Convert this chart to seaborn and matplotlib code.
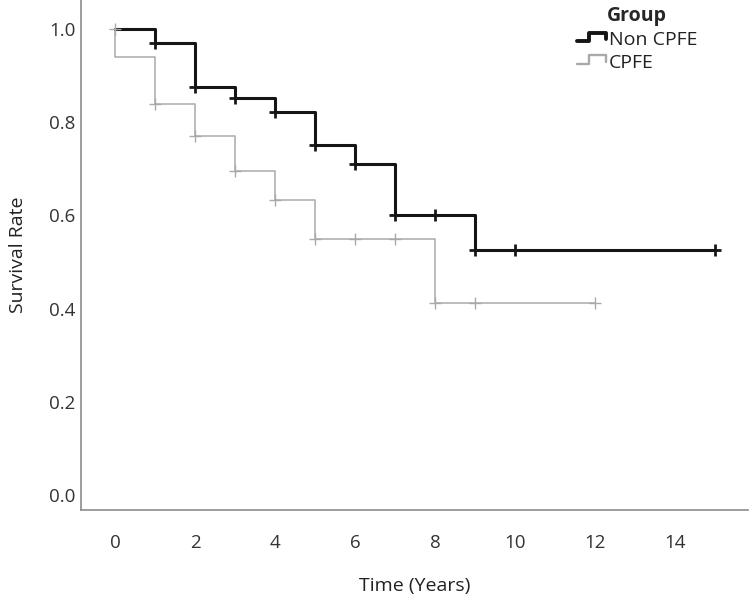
import pandas as pd
import numpy as np
import matplotlib
matplotlib.use("Agg")
import matplotlib.pyplot as plt
from matplotlib.lines import Line2D
from matplotlib.legend_handler import HandlerLine2D
import seaborn as sns

# Kaplan-Meier steps
non_cpfe_time = [0, 1, 2, 3, 4, 5, 6, 7, 9, 15]
non_cpfe_surv = [1.0, 0.971, 0.877, 0.853, 0.823, 0.752, 0.711, 0.601, 0.526, 0.526]
non_cpfe_cens_time = [1, 2, 3, 4, 5, 6, 7, 8, 9, 10, 15]
non_cpfe_cens_surv = [0.971, 0.877, 0.853, 0.823, 0.752, 0.711, 0.601, 0.601, 0.526, 0.526, 0.526]

cpfe_time = [0, 0, 1, 2, 3, 4, 5, 8, 12]
cpfe_surv = [1.0, 0.941, 0.840, 0.771, 0.695, 0.633, 0.549, 0.412, 0.412]
cpfe_cens_time = [0, 1, 2, 3, 4, 5, 6, 7, 8, 9, 12]
cpfe_cens_surv = [1.0, 0.840, 0.771, 0.695, 0.633, 0.549, 0.549, 0.549, 0.412, 0.412, 0.412]

x_ticks = [0, 2, 4, 6, 8, 10, 12, 14]
y_ticks = [0.0, 0.2, 0.4, 0.6, 0.8, 1.0]
groups = ["Non CPFE", "CPFE"]


class StepHandler(HandlerLine2D):
    # little step icon like the SPSS legend
    def create_artists(self, legend, orig_handle, xdescent, ydescent,
                       width, height, fontsize, trans):
        x0 = -xdescent
        y0 = -ydescent
        xs = [x0, x0 + 0.4 * width, x0 + 0.4 * width, x0 + width, x0 + width]
        ys = [y0 + 0.25 * height, y0 + 0.25 * height, y0 + 0.9 * height,
              y0 + 0.9 * height, y0 + 0.4 * height]
        line = Line2D(xs, ys)
        self.update_prop(line, orig_handle, legend)
        line.set_drawstyle("default")
        line.set_transform(trans)
        return [line]


sns.set_theme(style="white")
plt.rcParams["font.family"] = ["Open Sans", "DejaVu Sans"]

fig = plt.figure(figsize=(7.5, 6), dpi=100)
ax = fig.add_axes([81 / 750, 90 / 600, 667 / 750, 510 / 600])

curves = pd.DataFrame({
    "time": non_cpfe_time + cpfe_time,
    "surv": non_cpfe_surv + cpfe_surv,
    "Group": [groups[0]] * len(non_cpfe_time) + [groups[1]] * len(cpfe_time),
})
cens = pd.DataFrame({
    "time": non_cpfe_cens_time + cpfe_cens_time,
    "surv": non_cpfe_cens_surv + cpfe_cens_surv,
    "Group": [groups[0]] * len(non_cpfe_cens_time) + [groups[1]] * len(cpfe_cens_time),
})

colors = {"Non CPFE": "#151515", "CPFE": "#a9a9a9"}
widths = {"Non CPFE": 2.2, "CPFE": 1.1}

for g in ["CPFE", "Non CPFE"]:
    sns.lineplot(data=curves[curves["Group"] == g], x="time", y="surv",
                 estimator=None, sort=False, drawstyle="steps-post",
                 color=colors[g], linewidth=widths[g], ax=ax, legend=False)
    sns.scatterplot(data=cens[cens["Group"] == g], x="time", y="surv",
                    marker="+", s=80, color=colors[g], linewidth=widths[g] * 0.9,
                    ax=ax, legend=False, zorder=3)

ax.set_xlim(-0.85, 15.83)
ax.set_ylim(-0.033, 1.063)
ax.set_xticks(x_ticks)
ax.set_yticks(y_ticks)
ax.set_yticklabels([f"{v:.1f}" for v in y_ticks])
ax.tick_params(axis="x", length=0, pad=17, labelsize=13.5, labelcolor="#333333")
ax.tick_params(axis="y", length=0, pad=4, labelsize=13.5, labelcolor="#333333")

for side in ["top", "right"]:
    ax.spines[side].set_visible(False)
for side in ["left", "bottom"]:
    ax.spines[side].set_color("#8c8c8c")
    ax.spines[side].set_linewidth(1.2)

ax.set_xlabel("Time (Years)", fontsize=14, color="#222222", labelpad=18)
ax.set_ylabel("Survival Rate", fontsize=14, color="#222222", labelpad=16)

handles = [Line2D([], [], color=colors[g], linewidth=widths[g] + 0.6) for g in groups]
leg = ax.legend(handles, groups, title="Group", loc="upper left",
                bbox_to_anchor=(577 / 750, 1 - 6 / 600), bbox_transform=fig.transFigure,
                frameon=False, fontsize=14, title_fontsize=14, borderpad=0,
                borderaxespad=0, handlelength=1.5, handletextpad=0.15,
                labelspacing=0.25, handler_map={Line2D: StepHandler()})
leg.get_title().set_fontweight("bold")
for t in leg.get_texts():
    t.set_color("#222222")

fig.savefig("out.png", dpi=100)
